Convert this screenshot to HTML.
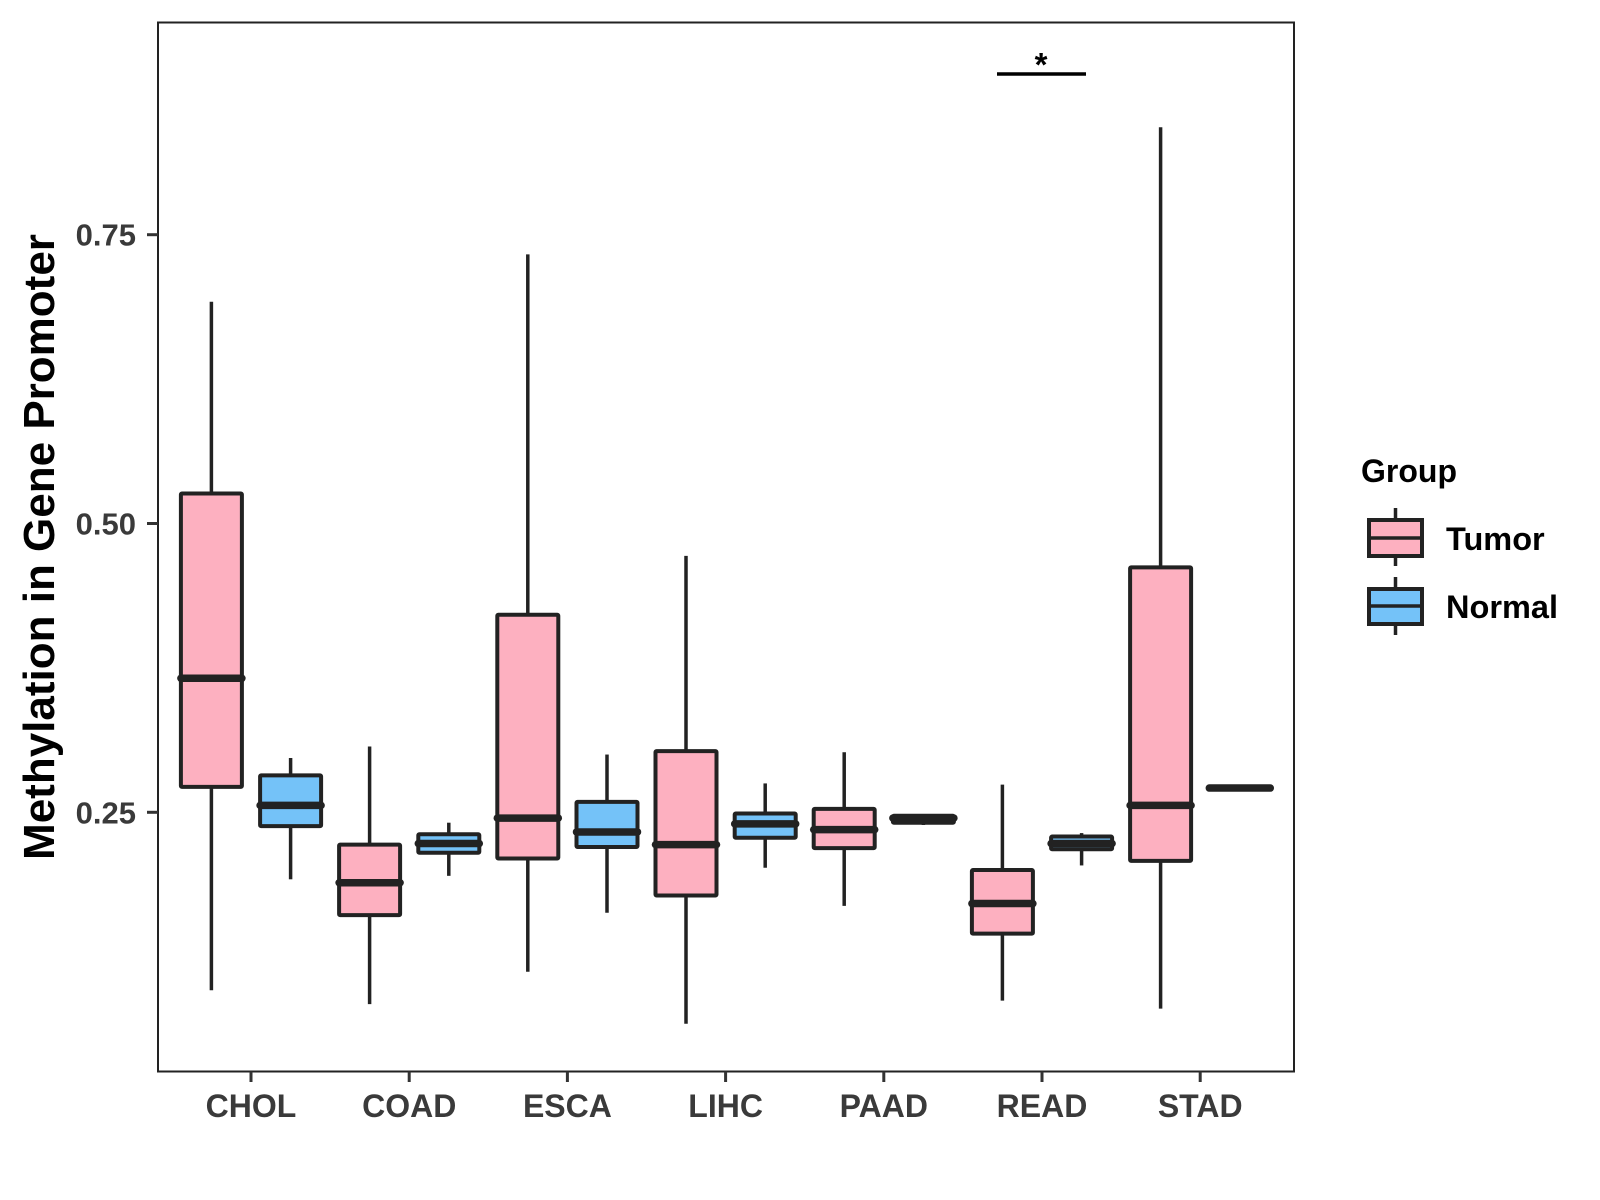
<!DOCTYPE html>
<html><head><meta charset="utf-8"><style>
html,body{margin:0;padding:0;background:#fff;}
svg{display:block;font-family:"Liberation Sans",Arial,sans-serif;}
</style></head><body>
<svg id="chart" width="1600" height="1200" viewBox="0 0 1600 1200">
<rect x="0" y="0" width="1600" height="1200" fill="#fff"/>
<g id="marks"></g>
<rect x="158" y="22.5" width="1136" height="1049" fill="none" stroke="#222" stroke-width="2"/>
<g id="axes"></g>
<text x="0" y="0" transform="translate(54,547) rotate(-90)" text-anchor="middle" font-size="44" font-weight="bold" fill="#000">Methylation in Gene Promoter</text>
<g>
<text x="1361" y="482" font-size="32" font-weight="bold" fill="#000">Group</text>
<g>
<line x1="1395.5" y1="508" x2="1395.5" y2="566" stroke="#222" stroke-width="3.5"/>
<rect x="1369" y="520" width="53" height="36" fill="#FDB0C0" stroke="#222" stroke-width="4"/>
<line x1="1369" y1="538" x2="1422" y2="538" stroke="#222" stroke-width="3.5"/>
<text x="1446" y="550" font-size="32.5" font-weight="bold" fill="#000">Tumor</text>
</g>
<g>
<line x1="1395.5" y1="577" x2="1395.5" y2="635" stroke="#222" stroke-width="3.5"/>
<rect x="1369" y="589" width="53" height="35" fill="#74C2F8" stroke="#222" stroke-width="4"/>
<line x1="1369" y1="606" x2="1422" y2="606" stroke="#222" stroke-width="3.5"/>
<text x="1446" y="618" font-size="32.5" font-weight="bold" fill="#000">Normal</text>
</g>
</g>
<g>
<line x1="997" y1="74" x2="1086" y2="74" stroke="#000" stroke-width="3.5"/>
<text x="1041" y="76" text-anchor="middle" font-size="33" font-weight="bold" fill="#000">*</text>
</g>
</svg>
<script>
const categories = ["CHOL","COAD","ESCA","LIHC","PAAD","READ","STAD"];
const tumorLow  = [0.096,0.084,0.112,0.067,0.169,0.087,0.080];
const tumorQ1   = [0.272,0.161,0.210,0.178,0.219,0.145,0.208];
const tumorMed  = [0.366,0.189,0.245,0.222,0.235,0.171,0.256];
const tumorQ3   = [0.526,0.222,0.421,0.303,0.253,0.200,0.462];
const tumorHigh = [0.692,0.307,0.733,0.472,0.302,0.274,0.843];
const normalLow  = [0.192,0.195,0.163,0.202,0.239,0.204,0.271];
const normalQ1   = [0.238,0.215,0.220,0.228,0.241,0.218,0.271];
const normalMed  = [0.256,0.223,0.233,0.240,0.245,0.223,0.271];
const normalQ3   = [0.282,0.231,0.259,0.249,0.247,0.229,0.271];
const normalHigh = [0.297,0.241,0.300,0.275,0.248,0.232,0.271];
const yTicks = [0.25,0.50,0.75];
const yTickLabels = ["0.25","0.50","0.75"];

const NS="http://www.w3.org/2000/svg";
function yS(v){return 812.3-(v-0.25)*1155.2;}
function xS(i){return 251+i*158.2;}
const marks=document.getElementById('marks');
const axes=document.getElementById('axes');
function mk(tag,attrs,parent){const e=document.createElementNS(NS,tag);for(const k in attrs)e.setAttribute(k,attrs[k]);parent.appendChild(e);return e;}

function drawBox(cx,lo,q1,md,q3,hi,fill,name){
  const g=mk('g',{},marks);
  
  
  const w=61;
  mk('line',{x1:cx,x2:cx,y1:yS(hi),y2:yS(q3),stroke:'#222','stroke-width':3.5},g);
  mk('line',{x1:cx,x2:cx,y1:yS(q1),y2:yS(lo),stroke:'#222','stroke-width':3.5},g);
  mk('rect',{x:cx-w/2,y:yS(q3),width:w,height:Math.max(yS(q1)-yS(q3),0.5),fill:fill,stroke:'#222','stroke-width':4,rx:1},g);
  mk('line',{x1:cx-w/2,x2:cx+w/2,y1:yS(md),y2:yS(md),stroke:'#222','stroke-width':7.5,'stroke-linecap':'round'},g);
}
categories.forEach((c,i)=>{
  drawBox(xS(i)-39.6,tumorLow[i],tumorQ1[i],tumorMed[i],tumorQ3[i],tumorHigh[i],'#FDB0C0','box-tumor-'+c.toLowerCase());
  drawBox(xS(i)+39.6,normalLow[i],normalQ1[i],normalMed[i],normalQ3[i],normalHigh[i],'#74C2F8','box-normal-'+c.toLowerCase());
  const t=mk('line',{x1:xS(i),x2:xS(i),y1:1071.5,y2:1082,stroke:'#333','stroke-width':3},axes);
  
  
  const l=mk('text',{x:xS(i),y:1117,'text-anchor':'middle','font-size':32,'font-weight':'bold',fill:'#3a3a3a'},axes);
  l.textContent=c;
  
  
});
yTicks.forEach((v,i)=>{
  const t=mk('line',{x1:147,x2:158,y1:yS(v),y2:yS(v),stroke:'#333','stroke-width':3},axes);
  
  
  const l=mk('text',{x:136,y:yS(v)+11,'text-anchor':'end','font-size':31,'font-weight':'bold',fill:'#3a3a3a'},axes);
  l.textContent=yTickLabels[i];
  
  
});
</script>
</body></html>
